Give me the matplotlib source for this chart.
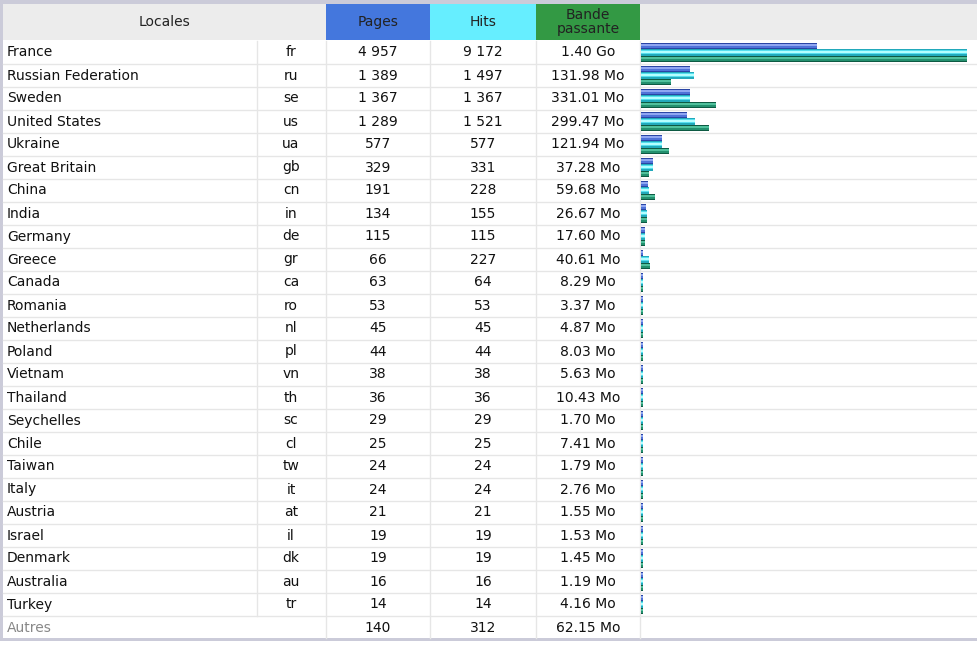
import matplotlib.pyplot as plt
from matplotlib.patches import Rectangle

# données (AWStats - Locales)
countries = ["France", "Russian Federation", "Sweden", "United States", "Ukraine",
             "Great Britain", "China", "India", "Germany", "Greece", "Canada",
             "Romania", "Netherlands", "Poland", "Vietnam", "Thailand", "Seychelles",
             "Chile", "Taiwan", "Italy", "Austria", "Israel", "Denmark", "Australia",
             "Turkey"]
codes = ["fr", "ru", "se", "us", "ua", "gb", "cn", "in", "de", "gr", "ca", "ro", "nl",
         "pl", "vn", "th", "sc", "cl", "tw", "it", "at", "il", "dk", "au", "tr"]
pages = [4957, 1389, 1367, 1289, 577, 329, 191, 134, 115, 66, 63, 53, 45, 44, 38, 36,
         29, 25, 24, 24, 21, 19, 19, 16, 14]
hits = [9172, 1497, 1367, 1521, 577, 331, 228, 155, 115, 227, 64, 53, 45, 44, 38, 36,
        29, 25, 24, 24, 21, 19, 19, 16, 14]
bandwidth_mo = [1.40 * 1024, 131.98, 331.01, 299.47, 121.94, 37.28, 59.68, 26.67, 17.60,
                40.61, 8.29, 3.37, 4.87, 8.03, 5.63, 10.43, 1.70, 7.41, 1.79, 2.76, 1.55,
                1.53, 1.45, 1.19, 4.16]
others = ("Autres", 140, 312, 62.15)

W, H = 978, 646
ROW_TOP = 41
ROW_H = 23
FS = 10
TXT = "#111111"
GRID = "#e6e6e6"
BORDER = "#cbcbd9"


def fmt_int(v):
    return f"{v:,}".replace(",", " ")


def fmt_bw(v):
    if v >= 1024:
        return f"{v / 1024:.2f} Go"
    return f"{v:.2f} Mo"


fig = plt.figure(figsize=(W / 100, H / 100), dpi=100)
ax = fig.add_axes([0, 0, 1, 1])
ax.set_xlim(0, W)
ax.set_ylim(H, 0)
ax.axis("off")

# bordures et en-tête
ax.add_patch(Rectangle((0, 0), W, 4, color=BORDER, lw=0))
ax.add_patch(Rectangle((0, 0), 3, 641, color=BORDER, lw=0))
ax.add_patch(Rectangle((0, 638), W, 3, color=BORDER, lw=0))
ax.add_patch(Rectangle((3, 4), W - 3, 36, color="#ececec", lw=0))
ax.add_patch(Rectangle((326, 4), 104, 36, color="#4477dd", lw=0))
ax.add_patch(Rectangle((430, 4), 106, 36, color="#66eeff", lw=0))
ax.add_patch(Rectangle((536, 4), 104, 36, color="#339944", lw=0))

ax.text(165, 22, "Locales", ha="center", va="center", fontsize=FS, color="#222222")
ax.text(378, 22, "Pages", ha="center", va="center", fontsize=FS, color="#222222")
ax.text(483, 22, "Hits", ha="center", va="center", fontsize=FS, color="#222222")
ax.text(588, 22, "Bande\npassante", ha="center", va="center", fontsize=FS,
        color="#222222", linespacing=0.95)

n_rows = len(countries) + 1
body_bottom = ROW_TOP + n_rows * ROW_H - 1

# lignes de la grille
for i in range(1, n_rows):
    y = ROW_TOP + i * ROW_H - 0.5
    ax.plot([3, W], [y, y], color=GRID, lw=1)
for x in [326, 430, 536, 640]:
    ax.plot([x, x], [ROW_TOP, body_bottom], color=GRID, lw=1)
ax.plot([257, 257], [ROW_TOP, ROW_TOP + len(countries) * ROW_H], color=GRID, lw=1)

# texte des lignes
for i, name in enumerate(countries):
    yc = ROW_TOP + i * ROW_H + 11.5
    ax.text(7, yc, name, ha="left", va="center", fontsize=FS, color=TXT)
    ax.text(291, yc, codes[i], ha="center", va="center", fontsize=FS, color=TXT)
    ax.text(378, yc, fmt_int(pages[i]), ha="center", va="center", fontsize=FS, color=TXT)
    ax.text(483, yc, fmt_int(hits[i]), ha="center", va="center", fontsize=FS, color=TXT)
    ax.text(588, yc, fmt_bw(bandwidth_mo[i]), ha="center", va="center", fontsize=FS, color=TXT)

yc = ROW_TOP + len(countries) * ROW_H + 11.5
ax.text(7, yc, others[0], ha="left", va="center", fontsize=FS, color="#888888")
ax.text(378, yc, fmt_int(others[1]), ha="center", va="center", fontsize=FS, color=TXT)
ax.text(483, yc, fmt_int(others[2]), ha="center", va="center", fontsize=FS, color=TXT)
ax.text(588, yc, fmt_bw(others[3]), ha="center", va="center", fontsize=FS, color=TXT)

# barres
axb = fig.add_axes([641 / W, (H - (ROW_TOP + n_rows * ROW_H)) / H,
                    337 / W, n_rows * ROW_H / H])
axb.set_xlim(0, 337 / 326)
axb.set_ylim(n_rows, 0)
axb.axis("off")

max_hits = max(hits)
max_bw = max(bandwidth_mo)
rows = list(range(len(countries)))
min_w = 2.0 / 326
frac_pages = [max(p / max_hits, min_w) for p in pages]
frac_hits = [max(h / max_hits, min_w) for h in hits]
frac_bw = [max(b / max_bw, min_w) for b in bandwidth_mo]

bh = 6.3 / ROW_H
px = 1.0 / ROW_H
# (valeurs, décalage, couleur de base, bande claire, bande sombre)
series = [
    (frac_pages, 2 / ROW_H, "#4f72d8", "#8fa6f2", "#2a45a5"),
    (frac_hits, 8.3 / ROW_H, "#55dfee", "#b4ffff", "#22a9bb"),
    (frac_bw, 14.6 / ROW_H, "#23906e", "#4fc09c", "#0d5a43"),
]
for fr, off, base, light, dark in series:
    axb.barh([r + off + bh / 2 for r in rows], fr, height=bh, color=base, lw=0)
    axb.barh([r + off + 1.2 * px + px for r in rows], fr, height=2 * px, color=light, lw=0)
    axb.barh([r + off + bh - 0.6 * px for r in rows], fr, height=1.2 * px, color=dark, lw=0)
    axb.barh([r + off + 0.5 * px for r in rows], fr, height=1 * px, color=dark, lw=0)

fig.savefig("out.png", dpi=100)
